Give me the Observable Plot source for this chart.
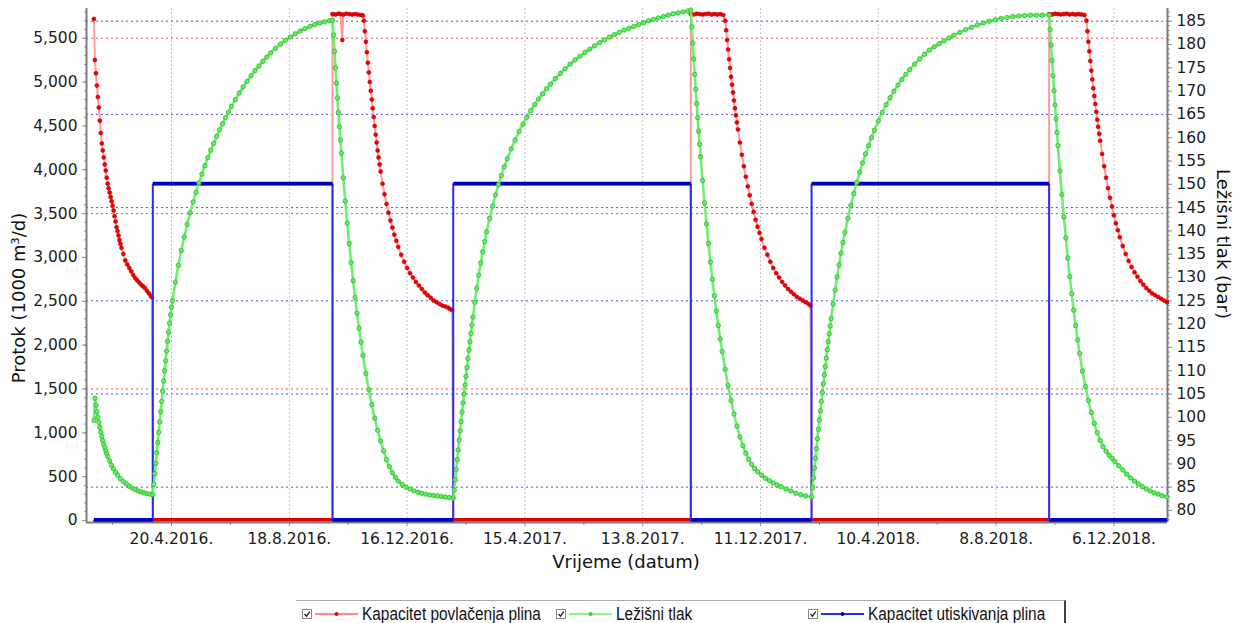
<!DOCTYPE html>
<html><head><meta charset="utf-8">
<script src="https://cdn.jsdelivr.net/npm/d3@7"></script>
<script src="https://cdn.jsdelivr.net/npm/@observablehq/plot@0.6"></script>
<style>
body{margin:0;background:#fff;width:1239px;height:623px;overflow:hidden;position:relative;font-family:"DejaVu Sans",sans-serif;}
#chart{position:absolute;left:0;top:0;}
#legend{position:absolute;left:296px;top:600px;width:768px;height:30px;border-top:1px solid #a8a8a8;border-right:2px solid #404040;background:#fff;font-family:"Liberation Sans",Arial,sans-serif;font-size:17.5px;color:#111;}
.item{position:absolute;top:3px;display:flex;align-items:center;height:20px;white-space:nowrap;}
.item svg{margin-right:4px;flex:none;}
.item span{display:inline-block;transform:scaleX(0.88);transform-origin:0 50%;}
</style></head><body>
<div id="chart"></div>
<div id="legend"></div>
<script>
// ---------------- DATA (day offsets from 1.2.2016.) ----------------
const baseDate = "2016-02-01";
const xTickLabels = ["20.4.2016.","18.8.2016.","16.12.2016.","15.4.2017.","13.8.2017.","11.12.2017.","10.4.2018.","8.8.2018.","6.12.2018."];
const leftTicks = [0,500,1000,1500,2000,2500,3000,3500,4000,4500,5000,5500];
const rightTicks = [80,85,90,95,100,105,110,115,120,125,130,135,140,145,150,155,160,165,170,175,180,185];
const redGridValues = [1500,3500,5500];
const blueGridValues = [85,105,125,145,165,185];

// withdrawal (povlačenje) and injection (utiskivanje) periods, [startDay, endDay]
const withdrawalPeriods = [[0,60],[243,366],[608,731],[973,1093]];
const injectionPeriods = [[60,243],[366,608],[731,973]];
const injectionLevel = 3835;

// Kapacitet povlačenja plina (1000 m3/d)
const red1 = [[0,5720],[1,5250],[2,5100],[3,4960],[4,4830],[5,4710],[6,4560],[7,4420],[8,4300],[9,4220],[10,4140],[11,4060],[12,3990],[13,3910],[14,3840],[15,3790],[16,3740],[17,3690],[18,3640],[19,3590],[20,3535],[21,3470],[22,3410],[23,3345],[24,3300],[25,3250],[26,3200],[27,3155],[28,3110],[30,3040],[32,2965],[34,2920],[36,2880],[38,2840],[40,2800],[42,2765],[44,2740],[46,2715],[48,2690],[50,2670],[52,2650],[54,2620],[56,2590],[58,2560],[59,2546]];
const red2 = [[243,5775],[246,5770],[249,5780],[251,5775],[253,5480],[254,5770],[257,5780],[260,5775],[263,5770],[266,5775],[269,5770],[272,5765],[274,5760],[275,5700],[276,5580],[277,5460],[278,5340],[279,5220],[280,5110],[281,5000],[282,4900],[283,4800],[284,4700],[285,4600],[286,4500],[287,4400],[288,4310],[289,4220],[290,4140],[291,4060],[292,3980],[294,3840],[296,3720],[298,3610],[300,3510],[302,3420],[304,3340],[306,3260],[308,3190],[310,3120],[313,3030],[316,2950],[319,2880],[322,2820],[325,2770],[328,2720],[331,2680],[334,2640],[337,2600],[340,2570],[343,2540],[346,2510],[349,2490],[352,2470],[355,2450],[358,2440],[361,2425],[363,2410],[365,2400]];
const red3 = [[608,5775],[611,5770],[614,5780],[617,5775],[620,5770],[623,5775],[626,5780],[629,5770],[632,5775],[635,5770],[638,5775],[641,5765],[643,5700],[644,5590],[645,5480],[646,5370],[647,5260],[648,5160],[649,5060],[650,4970],[651,4880],[652,4790],[653,4700],[654,4620],[655,4540],[656,4460],[658,4310],[660,4170],[662,4040],[664,3920],[666,3810],[668,3710],[670,3610],[672,3520],[674,3430],[676,3350],[678,3280],[680,3210],[683,3110],[686,3030],[689,2950],[692,2880],[695,2820],[698,2770],[701,2720],[704,2680],[707,2640],[710,2610],[713,2580],[716,2550],[719,2530],[722,2510],[725,2490],[728,2470],[730,2450]];
const red4 = [[973,5775],[976,5770],[979,5780],[982,5775],[985,5770],[988,5775],[991,5780],[994,5770],[997,5775],[1000,5770],[1003,5775],[1006,5770],[1009,5765],[1011,5700],[1012,5580],[1013,5460],[1014,5350],[1015,5240],[1016,5130],[1017,5030],[1018,4930],[1019,4840],[1020,4750],[1021,4660],[1022,4570],[1023,4490],[1024,4410],[1025,4330],[1027,4180],[1029,4040],[1031,3910],[1033,3790],[1035,3680],[1037,3580],[1039,3480],[1041,3390],[1043,3310],[1045,3230],[1048,3130],[1051,3040],[1054,2960],[1057,2890],[1060,2830],[1063,2780],[1066,2730],[1069,2690],[1072,2650],[1075,2620],[1078,2590],[1081,2570],[1084,2550],[1087,2530],[1090,2510],[1093,2490]];

// Ležišni tlak (bar)
const green1 = [[0,99.3],[1,104.1],[2,102.6],[3,101.2],[4,100.0],[5,98.9],[6,97.8],[7,96.8],[8,95.9],[9,95.0],[10,94.2],[11,93.5],[12,92.8],[13,92.2],[14,91.6],[16,90.6],[18,89.7],[20,88.9],[22,88.2],[24,87.6],[27,86.8],[30,86.2],[33,85.7],[36,85.2],[39,84.8],[42,84.5],[45,84.2],[48,84.0],[51,83.8],[54,83.6],[57,83.5]];
const green2 = [[60,83.4],[61,85.6],[62,87.9],[63,90.1],[64,92.4],[65,94.6],[66,96.8],[67,99.0],[68,101.2],[69,103.4],[70,105.6],[71,107.8],[72,110.0],[73,112.1],[74,114.2],[75,116.3],[76,118.3],[77,120.2],[78,122.0],[79,123.6],[80,125.0],[83,129.0],[86,132.6],[89,135.8],[92,138.7],[95,141.4],[98,143.9],[101,146.2],[104,148.3],[107,150.3],[110,152.2],[113,154.0],[116,155.7],[119,157.3],[122,158.8],[125,160.3],[128,161.7],[131,163.0],[134,164.3],[137,165.5],[140,166.7],[144,168.2],[148,169.6],[152,170.9],[156,172.1],[160,173.3],[164,174.4],[168,175.4],[172,176.4],[176,177.3],[180,178.2],[185,179.2],[190,180.1],[195,180.9],[200,181.6],[205,182.3],[210,182.9],[215,183.4],[220,183.9],[225,184.3],[230,184.6],[235,184.9],[240,185.1]];
const green3 = [[243,185.2],[244,182.0],[245,178.5],[246,175.0],[247,171.7],[248,168.5],[249,165.4],[250,162.4],[251,159.5],[252,156.7],[254,151.4],[256,146.4],[258,141.7],[260,137.3],[262,133.2],[264,129.3],[266,125.7],[268,122.3],[270,119.1],[272,116.1],[274,113.3],[277,109.4],[280,105.9],[283,102.7],[286,99.8],[289,97.2],[292,94.9],[295,92.8],[298,90.9],[301,89.4],[304,88.1],[307,87.1],[310,86.3],[314,85.6],[318,85.0],[322,84.6],[326,84.2],[330,83.9],[334,83.7],[338,83.5],[342,83.3],[346,83.2],[350,83.1],[354,83.0],[358,82.9],[362,82.8]];
const green4 = [[366,82.7],[367,84.4],[368,86.6],[369,88.8],[370,90.9],[371,93.0],[372,95.1],[373,97.1],[374,99.1],[375,101.1],[376,103.1],[377,105.0],[378,106.9],[379,108.8],[380,110.7],[381,112.6],[382,114.4],[383,116.2],[384,118.0],[385,119.8],[386,121.5],[388,124.7],[390,127.7],[392,130.5],[394,133.1],[396,135.5],[398,137.7],[400,139.8],[403,142.7],[406,145.3],[409,147.7],[412,149.9],[415,151.9],[418,153.8],[421,155.5],[425,157.6],[429,159.5],[433,161.3],[437,162.9],[441,164.4],[445,165.8],[449,167.1],[453,168.3],[457,169.4],[461,170.5],[465,171.5],[470,172.7],[475,173.8],[480,174.8],[485,175.8],[490,176.7],[495,177.5],[500,178.3],[505,179.0],[510,179.7],[515,180.4],[520,181.0],[525,181.6],[530,182.1],[535,182.6],[540,183.1],[545,183.5],[550,183.9],[555,184.3],[560,184.7],[565,185.1],[570,185.4],[575,185.7],[580,186.0],[585,186.3],[590,186.6],[595,186.8],[600,187.0],[605,187.2]];
const green5 = [[608,187.4],[609,183.8],[610,180.3],[611,176.9],[612,173.6],[613,170.4],[614,167.3],[615,164.3],[616,161.4],[617,158.6],[618,155.9],[620,150.8],[622,146.0],[624,141.5],[626,137.3],[628,133.3],[630,129.6],[632,126.1],[634,122.8],[636,119.7],[638,116.8],[640,114.1],[643,110.3],[646,106.8],[649,103.6],[652,100.7],[655,98.1],[658,95.8],[661,93.9],[664,92.3],[667,91.0],[670,89.9],[673,89.0],[676,88.3],[680,87.6],[684,86.9],[688,86.4],[692,85.9],[696,85.5],[700,85.1],[705,84.6],[710,84.2],[715,83.7],[720,83.4],[725,83.1]];
const green6 = [[731,82.9],[732,84.9],[733,87.0],[734,89.1],[735,91.2],[736,93.3],[737,95.4],[738,97.4],[739,99.4],[740,101.4],[741,103.4],[742,105.3],[743,107.2],[744,109.1],[745,110.9],[746,112.7],[747,114.5],[748,116.2],[749,117.9],[750,119.6],[751,121.2],[753,124.3],[755,127.3],[757,130.1],[759,132.7],[761,135.2],[763,137.5],[765,139.7],[768,142.7],[771,145.5],[774,148.0],[777,150.4],[780,152.6],[783,154.6],[786,156.5],[789,158.3],[792,160.0],[795,161.6],[799,163.6],[803,165.4],[807,167.1],[811,168.6],[815,170.0],[819,171.3],[823,172.5],[827,173.6],[831,174.6],[836,175.8],[841,176.9],[846,177.9],[851,178.8],[856,179.5],[861,180.2],[866,180.8],[871,181.4],[876,182.0],[882,182.6],[888,183.2],[894,183.7],[900,184.2],[906,184.6],[912,185.0],[918,185.3],[924,185.6],[930,185.8],[936,186.0],[942,186.1],[948,186.2],[954,186.3],[960,186.3],[966,186.3]];
const green7 = [[973,186.3],[974,183.2],[975,179.9],[976,176.6],[977,173.3],[978,170.1],[979,167.0],[980,164.0],[981,161.1],[982,158.3],[984,152.9],[986,147.8],[988,143.0],[990,138.5],[992,134.2],[994,130.2],[996,126.5],[998,123.0],[1000,119.7],[1002,116.6],[1004,113.7],[1007,109.9],[1010,106.6],[1013,103.6],[1016,101.0],[1019,98.7],[1022,96.7],[1025,95.0],[1028,93.7],[1031,92.7],[1034,91.9],[1037,91.2],[1040,90.5],[1044,89.6],[1048,88.7],[1052,87.8],[1056,87.0],[1060,86.3],[1064,85.7],[1068,85.1],[1072,84.6],[1076,84.2],[1080,83.8],[1084,83.5],[1088,83.2],[1093,82.9]];

// ---------------- SCALES ----------------
const DAY = 86400000;
const base = Date.parse(baseDate + "T00:00:00Z");
const toDate = d => new Date(base + d * DAY);
const parseLabel = s => { const [dd, mm, yy] = s.split(".").map(Number); return new Date(Date.UTC(yy, mm - 1, dd)); };
const xMajor = xTickLabels.map(parseLabel);
const xMinor = xMajor.map(d => new Date(+d - 60 * DAY));
const labelOf = new Map(xMajor.map((d, i) => [+d, xTickLabels[i]]));

const xDomain = [new Date(Date.UTC(2016,0,24,10)), new Date(Date.UTC(2019,0,29,14))];
const yDomain = [-22.8, 5838.7];
const pDomain = [77.42, 187.73];
const yLin = d3.scaleLinear(yDomain, [522, 8]);
const pLin = d3.scaleLinear(pDomain, [522, 8]);
const p2y = b => yLin.invert(pLin(b));
const y2p = v => pLin.invert(yLin(v));

// red series (points, and line with zero periods)
const redSeasons = [red1, red2, red3, red4];
const redPts = redSeasons.flat().map(([d, v]) => ({date: toDate(d), v}));
const redLine = [];
redSeasons.forEach((s, i) => {
  if (i > 0) redLine.push({date: toDate(withdrawalPeriods[i][0]), v: 0});
  s.forEach(([d, v]) => redLine.push({date: toDate(d), v}));
  if (i < injectionPeriods.length) redLine.push({date: toDate(injectionPeriods[i][0]), v: 0});
});
const redZero = injectionPeriods.map(([a, b]) => ({x1: toDate(a), x2: toDate(b), y: 0}));

// blue series
const blueLine = [];
withdrawalPeriods.forEach(([a, b], i) => {
  blueLine.push({date: toDate(a), v: 0}, {date: toDate(b), v: 0});
  if (i < injectionPeriods.length) {
    const [c, e] = injectionPeriods[i];
    blueLine.push({date: toDate(c), v: injectionLevel}, {date: toDate(e), v: injectionLevel});
  }
});
const blueBands = [
  ...withdrawalPeriods.map(([a, b]) => ({x1: toDate(a), x2: toDate(b), y: 0})),
  ...injectionPeriods.map(([a, b]) => ({x1: toDate(a), x2: toDate(b), y: injectionLevel}))
];

// green series
const greenPts = [green1, green2, green3, green4, green5, green6, green7].flat().map(([d, p]) => ({date: toDate(d), v: p2y(p)}));

const fmtX = d => labelOf.get(+d) ?? "";
const axisFont = {fontSize: 15.5, fill: "#1c1c1c", stroke: "#8a8a8a"};

const chart = Plot.plot({
  width: 1239, height: 590,
  marginLeft: 86, marginRight: 72, marginTop: 8, marginBottom: 68,
  x: {type: "utc", domain: xDomain, label: null},
  y: {domain: yDomain, label: null},
  style: {fontFamily: "'DejaVu Sans', sans-serif", fontSize: "15.5px", background: "#fff", color: "#1c1c1c"},
  marks: [
    Plot.ruleX(xMajor, {stroke: "#c4c4c4", strokeDasharray: "2,2"}),
    Plot.ruleY(redGridValues, {stroke: "#e05858", strokeDasharray: "2,3"}),
    Plot.ruleY(blueGridValues.map(p2y), {stroke: "#4d4df0", strokeDasharray: "2,3"}),
    Plot.axisX({ticks: xMajor, tickFormat: fmtX, tickSize: 4, tickPadding: 6, label: null, ...axisFont}),
    Plot.axisX({ticks: xMinor, tickSize: 3, text: null, label: null, stroke: "#8a8a8a"}),
    Plot.axisY({ticks: leftTicks, tickFormat: d3.format(","), tickSize: 4, tickPadding: 5, label: null, ...axisFont}),
    Plot.axisY({ticks: d3.range(0, 5801, 100), tickSize: 2, text: null, label: null, stroke: "#9a9a9a"}),
    Plot.axisY({anchor: "right", ticks: rightTicks.map(p2y), tickFormat: v => String(Math.round(y2p(v))), tickSize: 4, tickPadding: 5, label: null, ...axisFont}),
    Plot.axisY({anchor: "right", ticks: d3.range(78, 188, 1).map(p2y), tickSize: 2, text: null, label: null, stroke: "#9a9a9a"}),
    // axis lines
    Plot.ruleX(xDomain, {stroke: "#7c7c7c", strokeWidth: 2}),
    Plot.ruleY([yDomain[0]], {stroke: "#7c7c7c", strokeWidth: 2}),
    // red
    Plot.line(redLine, {x: "date", y: "v", stroke: "#ff9a9a", strokeWidth: 2}),
    Plot.link(redZero, {x1: "x1", x2: "x2", y1: "y", y2: "y", dy: -0.8, stroke: "#dd0000", strokeWidth: 3.6}),
    Plot.dot(redPts, {x: "date", y: "v", r: 2, fill: "#ee0000", stroke: "#c00000", strokeWidth: 0.6}),
    // blue
    Plot.line(blueLine, {x: "date", y: "v", stroke: "#2a2aff", strokeWidth: 2}),
    Plot.link(blueBands, {x1: "x1", x2: "x2", y1: "y", y2: "y", dy: -0.6, stroke: "#0000c4", strokeWidth: 3.6}),
    // green
    Plot.line(greenPts, {x: "date", y: "v", stroke: "#72ec72", strokeWidth: 2.6}),
    Plot.dot(greenPts, {x: "date", y: "v", r: 2.2, fill: "#66ec66", stroke: "#28bd28", strokeWidth: 0.8})
  ]
});
document.getElementById("chart").appendChild(chart);

const svg = d3.select(chart);
const titleStyle = t => t.attr("font-family", "'DejaVu Sans', sans-serif").attr("font-size", 18).attr("fill", "#111").attr("text-anchor", "middle").attr("dominant-baseline", "central");
titleStyle(svg.append("text").attr("transform", "translate(18,298) rotate(-90)").text("Protok (1000 m³/d)"));
titleStyle(svg.append("text").attr("transform", "translate(1223,244) rotate(90)").text("Ležišni tlak (bar)"));
titleStyle(svg.append("text").attr("x", 626).attr("y", 561).text("Vrijeme (datum)"));

// legend
const legendItems = [
  {label: "Kapacitet povlačenja plina", line: "#ff8a8a", dot: "#e00000", left: 6},
  {label: "Ležišni tlak", line: "#8ef58e", dot: "#33cc33", left: 260},
  {label: "Kapacitet utiskivanja plina", line: "#2a2aff", dot: "#0000c4", left: 512}
];
const legend = document.getElementById("legend");
legendItems.forEach(it => {
  const div = document.createElement("div");
  div.className = "item";
  div.style.left = it.left + "px";
  div.innerHTML = `<svg width="56" height="14" viewBox="0 0 56 14">
    <rect x="0.5" y="2.5" width="9" height="9" fill="#fff" stroke="#8a8a8a"/>
    <polyline points="2.5,7 4.5,9.2 7.8,4.6" fill="none" stroke="#222" stroke-width="1.3"/>
    <line x1="13" y1="7" x2="56" y2="7" stroke="${it.line}" stroke-width="2"/>
    <circle cx="34.5" cy="7" r="2" fill="${it.dot}"/></svg><span>${it.label}</span>`;
  legend.appendChild(div);
});
</script></body></html>
